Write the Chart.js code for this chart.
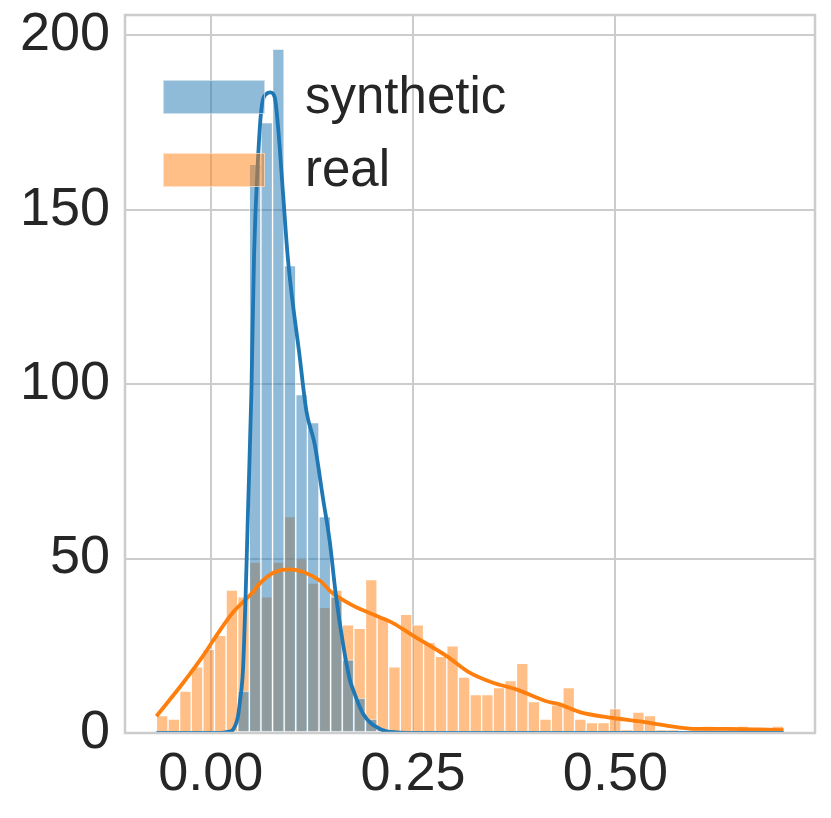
<!DOCTYPE html>
<html><head><meta charset="utf-8">
<script src="https://cdn.jsdelivr.net/npm/chart.js@4/dist/chart.umd.min.js"></script>
<style>html,body{margin:0;padding:0;background:#fff;overflow:hidden;}</style>
</head><body>
<canvas id="c" width="831" height="818"></canvas>
<script>
// ---- data ----
const seriesNames = ['synthetic', 'real'];
const binStart = -0.0671;
const binWidth = 0.01435;
const syntheticCounts = [0,0,0,0,0,0,0,12,163,175,196,134,97,89,62,39,21,10,4,1,
  0,0,0,0,0,0,0,0,0,0,0,0,0,0,0,0,0,0,0,0,0,0,0,0,0,0,0,0,0,0,0,0,0,0];
const realCounts = [5,4,12,19,24,28,41,39,49,39,49,62,50,43,36,41,31,30,44,33,
  19,34,31,26,22,25,16,11,11,13,15,20,9,4,8,13,4,3,3,7,1,6,5,1,1,0,1,2,1,1,2,1,0,2];
const syntheticKdeX = [-0.0671,0.0,0.012,0.021,0.0276,0.0337,0.0358,0.0399,0.0441,0.0461,0.0503,0.0535,0.0584,0.0626,0.0688,0.0738,0.0791,0.0831,0.0893,0.0955,0.110,0.1182,0.1285,0.1387,0.147,0.1544,0.1635,0.1717,0.1758,0.1882,0.2088,0.2294,0.26,0.40,0.7078];
const syntheticKdeY = [0,0,0,0.3,1.0,4.8,8.5,18.3,47.1,64,98,136.5,164.4,178.8,183.2,183.6,182.2,174,154.8,135.6,107.7,92.3,82.7,67.3,55,40,25.5,15.4,12.5,5.5,1.2,0.2,0,0,0];
const realKdeX = [-0.0671,-0.034,-0.0095,0.007,0.0276,0.0523,0.0605,0.078,0.0976,0.1347,0.149,0.1758,0.2088,0.2252,0.25,0.2912,0.3199,0.3488,0.3776,0.4147,0.4312,0.4559,0.4971,0.5301,0.563,0.596,0.6372,0.6783,0.7078];
const realKdeY = [4.8,14.4,22.1,27.9,34.6,40.4,42.8,46.0,46.9,43.7,40.4,36.5,33.2,31.5,27.9,22.1,17.3,14.4,12.5,9.1,8.2,6.0,4.3,3.3,2.1,1.2,1.2,1.0,0.8];
const xTickValues = [0, 0.25, 0.5];
const yTickValues = [0, 50, 100, 150, 200];

// ---- styles ----
const BLUE = '#1f77b4', ORANGE = '#ff7f0e';
const BLUE_FILL = 'rgba(31,119,180,0.5)', ORANGE_FILL = 'rgba(255,127,14,0.5)';
const EDGE = 'rgba(255,255,255,0.55)';
const GRID = '#cccccc', TEXT = '#262626';
const FONT = '"Liberation Sans", Arial, sans-serif';

const binCenters = realCounts.map((_, i) => binStart + binWidth * (i + 0.5));
const toBars = arr => arr.map((v, i) => ({x: binCenters[i], y: v === 0 ? null : v}));
const toLine = (xs, ys) => xs.map((x, i) => ({x: x, y: ys[i]}));

const framePlugin = {
  id: 'frame',
  afterDatasetsDraw(chart) {
    const a = chart.chartArea, ctx = chart.ctx;
    ctx.save();
    ctx.strokeStyle = GRID; ctx.lineWidth = 2.5;
    ctx.strokeRect(a.left, a.top, a.right - a.left, a.bottom - a.top);
    ctx.restore();
  }
};
const legendPlugin = {
  id: 'customLegend',
  afterDraw(chart) {
    const ctx = chart.ctx;
    const items = [
      {label: chart.data.datasets[0].label, fill: BLUE_FILL, y: 80},
      {label: chart.data.datasets[1].label, fill: ORANGE_FILL, y: 153}
    ];
    ctx.save();
    items.forEach(it => {
      ctx.fillStyle = it.fill;
      ctx.fillRect(163, it.y, 102, 34);
      ctx.strokeStyle = EDGE; ctx.lineWidth = 1;
      ctx.strokeRect(163.5, it.y + 0.5, 101, 33);
      ctx.fillStyle = TEXT;
      ctx.font = '51px ' + FONT;
      ctx.textBaseline = 'alphabetic';
      ctx.textAlign = 'left';
      ctx.fillText(it.label, 305, it.y + 33);
    });
    ctx.restore();
  }
};

new Chart(document.getElementById('c'), {
  type: 'bar',
  data: {
    datasets: [
      {label: seriesNames[0], data: toBars(syntheticCounts), backgroundColor: BLUE_FILL,
       borderColor: EDGE, borderWidth: 1, borderSkipped: false, grouped: false,
       barPercentage: 1, categoryPercentage: 1, order: 1},
      {label: seriesNames[1], data: toBars(realCounts), backgroundColor: ORANGE_FILL,
       borderColor: EDGE, borderWidth: 1, borderSkipped: false, grouped: false,
       barPercentage: 1, categoryPercentage: 1, order: 2},
      {type: 'line', label: seriesNames[0] + ' kde', data: toLine(syntheticKdeX, syntheticKdeY),
       borderColor: BLUE, borderWidth: 3.8, pointRadius: 0, fill: false,
       cubicInterpolationMode: 'monotone', order: 0},
      {type: 'line', label: seriesNames[1] + ' kde', data: toLine(realKdeX, realKdeY),
       borderColor: ORANGE, borderWidth: 3.8, pointRadius: 0, fill: false,
       cubicInterpolationMode: 'monotone', order: 0}
    ]
  },
  options: {
    responsive: false, animation: false, devicePixelRatio: 1, events: [],
    layout: {padding: {top: 15, right: 16, left: 0, bottom: 0}},
    plugins: {legend: {display: false}, tooltip: {enabled: false}},
    scales: {
      x: {
        type: 'linear', min: -0.1059, max: 0.7466, offset: false,
        afterBuildTicks: s => { s.ticks = xTickValues.map(v => ({value: v})); },
        afterFit: s => { s.height = 85; s.paddingLeft = 0; s.paddingRight = 0; },
        grid: {color: GRID, lineWidth: 2, drawTicks: false, offset: false},
        border: {display: false},
        ticks: {color: TEXT, font: {family: FONT, size: 54}, padding: 10,
                maxRotation: 0, callback: v => Number(v).toFixed(2)}
      },
      y: {
        min: 0, max: 205.8,
        afterBuildTicks: s => { s.ticks = yTickValues.map(v => ({value: v})); },
        afterFit: s => { s.width = 125; s.paddingTop = 0; s.paddingBottom = 0; },
        grid: {color: GRID, lineWidth: 2, drawTicks: false},
        border: {display: false},
        ticks: {color: TEXT, font: {family: FONT, size: 54}, padding: 15,
                callback: v => String(v)}
      }
    }
  },
  plugins: [framePlugin, legendPlugin]
});
</script>
</body></html>
